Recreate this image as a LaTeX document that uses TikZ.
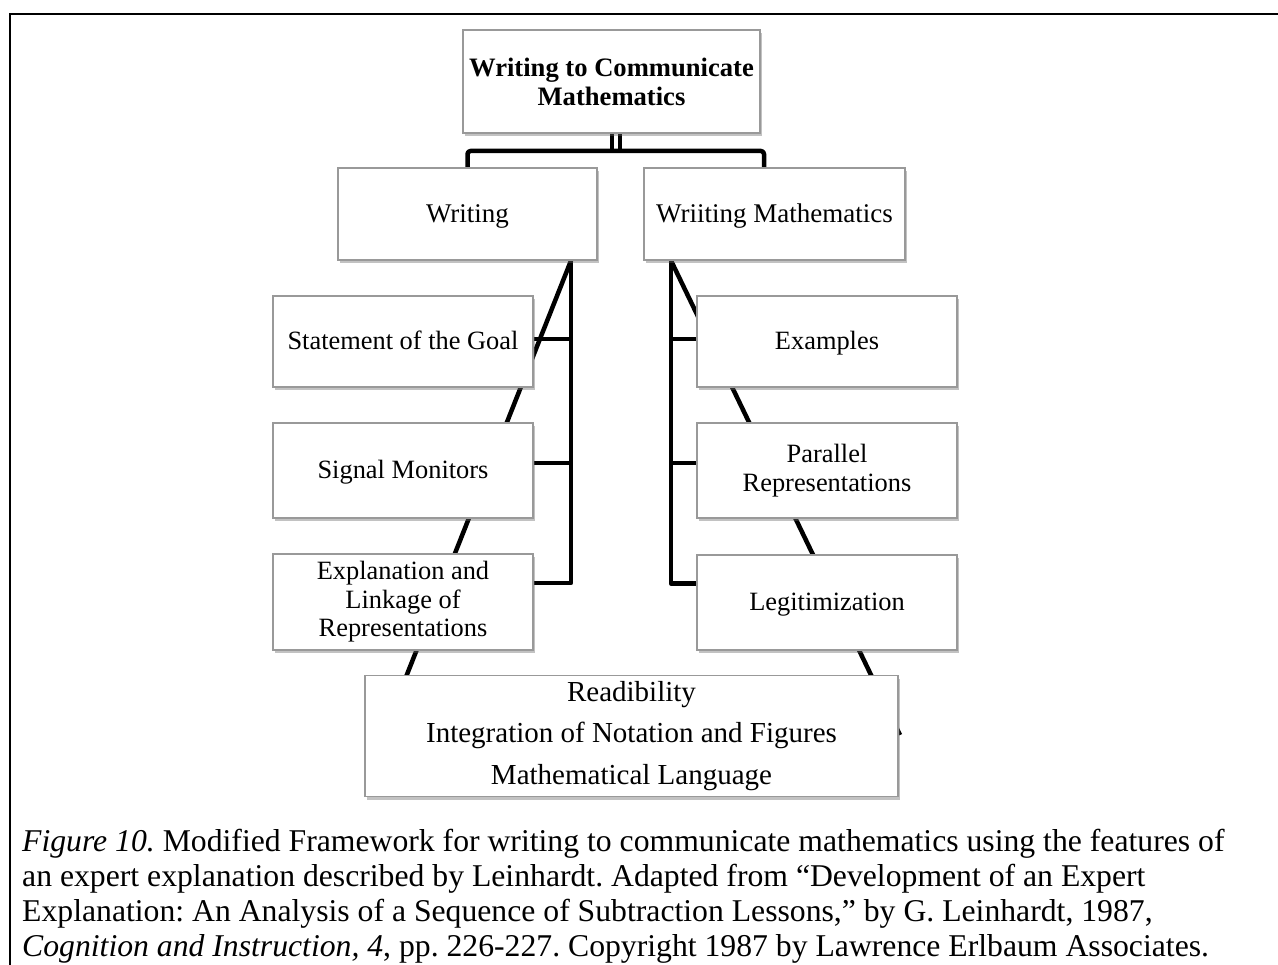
\documentclass[tikz,border=0pt]{standalone}
\usepackage{fontspec}
\setmainfont{Liberation Serif}
\usetikzlibrary{shadows,calc}
\pgfdeclarelayer{bg}
\pgfsetlayers{bg,main}
\frenchspacing
\begin{document}
\begin{tikzpicture}[x=1pt,y=-1pt,
  box/.style={draw=black!40, line width=1.2pt, fill=white, inner sep=0pt, align=center,
    font=\fontsize{26.4}{28.5}\selectfont,
    drop shadow={shadow xshift=1.5pt, shadow yshift=-3pt, fill=black!60, opacity=0.4}},
  conn/.style={line width=4.5pt, line join=round},
  bars/.style={line width=4pt},
  captxt/.style={anchor=base west, inner sep=0pt, font=\fontsize{31.7}{35}\selectfont}]
\useasboundingbox (0,0) rectangle (1278,965);
\draw[line width=2pt] (10,965) -- (10,14) -- (1278,14);

% boxes
\node[box, minimum width=297pt, minimum height=103pt, font=\fontsize{26.6}{29}\selectfont\bfseries] (top) at (611.5,81.5) {Writing to Communicate\\Mathematics};
\node[box, minimum width=259pt, minimum height=92pt, font=\fontsize{27}{29}\selectfont] (w) at (467.5,214) {\raisebox{-2.5pt}{Writing}\strut};
\node[box, minimum width=261pt, minimum height=92pt, font=\fontsize{27}{29}\selectfont] (wm) at (774.5,214) {\raisebox{-2.5pt}{Wriiting Mathematics}\strut};
\node[box, minimum width=260pt, minimum height=91pt] (sg) at (403,341.5) {\raisebox{-2.5pt}{Statement of the Goal}\strut};
\node[box, minimum width=260pt, minimum height=95pt] (sm) at (403,470.5) {\raisebox{-2pt}{Signal Monitors}\strut};
\node[box, minimum width=260pt, minimum height=96pt] (ex) at (403,602) {Explanation and\\Linkage of\\Representations};
\node[box, minimum width=260pt, minimum height=91pt] (eg) at (827,341.5) {\raisebox{-2.5pt}{Examples}\strut};
\node[box, minimum width=260pt, minimum height=95pt] (pr) at (827,470.5) {Parallel\\Representations};
\node[box, minimum width=260pt, minimum height=95pt] (lg) at (827,602.5) {\raisebox{-2pt}{Legitimization}\strut};
\node[box, minimum width=533pt, minimum height=121pt, font=\fontsize{29}{41.5}\selectfont] (bt) at (631.5,736) {Readibility\\Integration of Notation and Figures\\Mathematical Language};

% connectors
\coordinate (bar) at (0,151);
\coordinate (dl) at (383,735);
\coordinate (dr) at (900,735);
\begin{pgfonlayer}{bg}
\draw[bars] ([xshift=0.5pt]top.south) -- ([xshift=0.5pt]top.south |- bar);
\draw[bars] ([xshift=8pt]top.south) -- ([xshift=8pt]top.south |- bar);
\draw[conn, rounded corners=3pt] (w.north) -- (w.north |- bar) -- ([xshift=-10.5pt]wm.north |- bar) -- ([xshift=-10.5pt]wm.north);
% left group
\coordinate (lv) at ([xshift=103.5pt]w.south);
\draw[conn] (lv) |- ([yshift=19pt]ex.east);
\draw[conn] (lv |- sg.east) ++(0,-2.5) -- ([yshift=2.5pt]sg.east);
\draw[conn] (lv |- sm.east) ++(0,-7.5) -- ([yshift=7.5pt]sm.east);
\draw[conn] (lv) -- (dl);
% right group
\coordinate (rv) at ([xshift=-103.5pt]wm.south);
\draw[conn] (rv) |- ([yshift=19pt]lg.west);
\draw[conn] (rv |- eg.west) ++(0,-2.5) -- ([yshift=2.5pt]eg.west);
\draw[conn] (rv |- pr.west) ++(0,-7.5) -- ([yshift=7.5pt]pr.west);
\draw[conn] (rv) -- (dr);
\end{pgfonlayer}

% caption
\node[captxt] (c1) at (22,851) {\textit{Figure 10.} Modified Framework for writing to communicate mathematics using the features of};
\node[captxt] (c2) at (22,886) {an expert explanation described by Leinhardt. Adapted from “Development of an Expert};
\node[captxt] (c3) at (22,921) {Explanation: An Analysis of a Sequence of Subtraction Lessons,” by G. Leinhardt, 1987,};
\node[captxt] (c4) at (22,956) {\textit{Cognition and Instruction, 4}, pp. 226-227. Copyright 1987 by Lawrence Erlbaum Associates.};
\end{tikzpicture}
\end{document}
